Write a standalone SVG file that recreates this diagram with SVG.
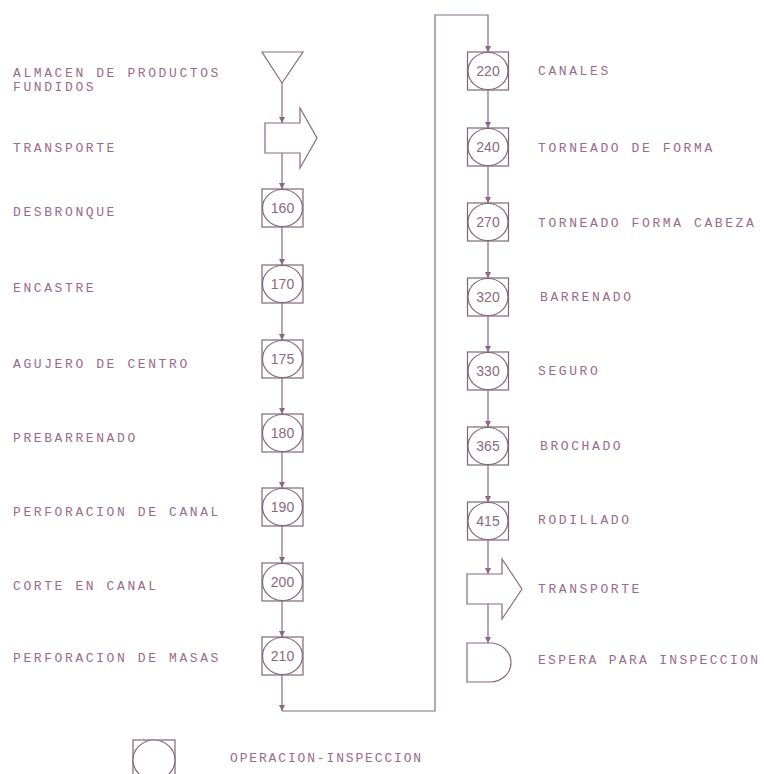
<svg xmlns="http://www.w3.org/2000/svg" width="764" height="774" viewBox="0 0 764 774">
<style>
.ln{fill:none;stroke:#8c6880;stroke-width:1.2}
.sh{fill:#fff;stroke:#8c6880;stroke-width:1.2}
.bx{fill:#fff;stroke:#7f6676;stroke-width:1.2}
.lb{font-family:"Liberation Mono","DejaVu Sans Mono",monospace;font-size:13px;letter-spacing:2.6px;fill:#9a6a8c}
.nm{font-family:"Liberation Sans","DejaVu Sans",sans-serif;font-size:14px;fill:#8a6a80;text-anchor:middle}
</style>
<defs>
<marker id="ah" viewBox="0 0 6 6" refX="6" refY="3" markerWidth="6" markerHeight="6" orient="auto" markerUnits="userSpaceOnUse">
<path d="M0,0 L6,3 L0,6 Z" fill="#8c6880"/>
</marker>
<g id="op">
<rect class="bx" x="-20.5" y="-19" width="41" height="38"/>
<ellipse class="bx" cx="0" cy="0" rx="20" ry="18.5"/>
</g>
</defs>
<rect width="764" height="774" fill="#fff"/>
<g id="connectors">
<path class="ln" d="M282,83 V123" marker-end="url(#ah)"/>
<path class="ln" d="M282,153 V189" marker-end="url(#ah)"/>
<path class="ln" d="M282,227 V265" marker-end="url(#ah)"/>
<path class="ln" d="M282,303 V340" marker-end="url(#ah)"/>
<path class="ln" d="M282,378 V414" marker-end="url(#ah)"/>
<path class="ln" d="M282,452 V488" marker-end="url(#ah)"/>
<path class="ln" d="M282,526 V563" marker-end="url(#ah)"/>
<path class="ln" d="M282,601 V637" marker-end="url(#ah)"/>
<path class="ln" d="M282,675 V711" marker-end="url(#ah)"/>
<path class="ln" d="M282,711 H435 V15 H488 V52" marker-end="url(#ah)"/>
<path class="ln" d="M488,90 V128" marker-end="url(#ah)"/>
<path class="ln" d="M488,166 V203" marker-end="url(#ah)"/>
<path class="ln" d="M488,241 V278" marker-end="url(#ah)"/>
<path class="ln" d="M488,316 V352" marker-end="url(#ah)"/>
<path class="ln" d="M488,390 V427" marker-end="url(#ah)"/>
<path class="ln" d="M488,465 V502" marker-end="url(#ah)"/>
<path class="ln" d="M488,540 V574" marker-end="url(#ah)"/>
<path class="ln" d="M488,604 V643" marker-end="url(#ah)"/>
</g>
<g id="almacen">
<polygon class="sh" points="262,52 303,52 282,83"/>
<text class="lb" x="13" y="77">ALMACEN DE PRODUCTOS</text>
<text class="lb" x="13" y="91">FUNDIDOS</text>
</g>
<g id="transporte1">
<path class="sh" d="M265,123 H300 V108 L317,138 L300,168 V153 H265 Z"/>
<text class="lb" x="13" y="152">TRANSPORTE</text>
</g>
<g id="n160"><use href="#op" x="282.5" y="208"/><text class="nm" x="282.5" y="213">160</text><text class="lb" x="13" y="216">DESBRONQUE</text></g>
<g id="n170"><use href="#op" x="282.5" y="284"/><text class="nm" x="282.5" y="289">170</text><text class="lb" x="13" y="292">ENCASTRE</text></g>
<g id="n175"><use href="#op" x="282.5" y="359"/><text class="nm" x="282.5" y="364">175</text><text class="lb" x="13" y="368">AGUJERO DE CENTRO</text></g>
<g id="n180"><use href="#op" x="282.5" y="433"/><text class="nm" x="282.5" y="438">180</text><text class="lb" x="13" y="442">PREBARRENADO</text></g>
<g id="n190"><use href="#op" x="282.5" y="507"/><text class="nm" x="282.5" y="512">190</text><text class="lb" x="13" y="516">PERFORACION DE CANAL</text></g>
<g id="n200"><use href="#op" x="282.5" y="582"/><text class="nm" x="282.5" y="587">200</text><text class="lb" x="13" y="590">CORTE EN CANAL</text></g>
<g id="n210"><use href="#op" x="282.5" y="656"/><text class="nm" x="282.5" y="661">210</text><text class="lb" x="13" y="662">PERFORACION DE MASAS</text></g>
<g id="n220"><use href="#op" x="488" y="71"/><text class="nm" x="488" y="76">220</text><text class="lb" x="538" y="75">CANALES</text></g>
<g id="n240"><use href="#op" x="488" y="147"/><text class="nm" x="488" y="152">240</text><text class="lb" x="538" y="152">TORNEADO DE FORMA</text></g>
<g id="n270"><use href="#op" x="488" y="222"/><text class="nm" x="488" y="227">270</text><text class="lb" x="538" y="227">TORNEADO FORMA CABEZA</text></g>
<g id="n320"><use href="#op" x="488" y="297"/><text class="nm" x="488" y="302">320</text><text class="lb" x="540" y="301">BARRENADO</text></g>
<g id="n330"><use href="#op" x="488" y="371"/><text class="nm" x="488" y="376">330</text><text class="lb" x="538" y="375">SEGURO</text></g>
<g id="n365"><use href="#op" x="488" y="446"/><text class="nm" x="488" y="451">365</text><text class="lb" x="540" y="450">BROCHADO</text></g>
<g id="n415"><use href="#op" x="488" y="521"/><text class="nm" x="488" y="526">415</text><text class="lb" x="538" y="524">RODILLADO</text></g>
<g id="transporte2">
<path class="sh" d="M467,574 H502 V559 L522,589 L502,619 V604 H467 Z"/>
<text class="lb" x="538" y="593">TRANSPORTE</text>
</g>
<g id="espera">
<path class="sh" d="M467,643 H490 A21 19.5 0 0 1 490,682 H467 Z"/>
<text class="lb" x="538" y="664" style="letter-spacing:2.3px">ESPERA PARA INSPECCION</text>
</g>
<g id="legend">
<rect class="bx" x="133" y="740" width="42" height="36"/>
<ellipse class="bx" cx="154" cy="760" rx="21" ry="20"/>
<text class="lb" x="230" y="762" style="letter-spacing:1.85px">OPERACION-INSPECCION</text>
</g>
</svg>
